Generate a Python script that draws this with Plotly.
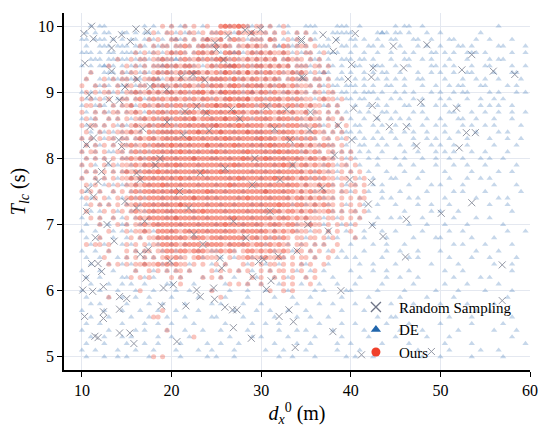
import plotly.graph_objects as go

# ---------------- data ----------------
# Grid on which DE / Ours samples lie: x = 10 + 0.5*i, y = 10.0 - 0.1*j (rows from top)
x_start, x_step = 10.0, 0.5
y_top, y_step = 10.0, 0.1

# "Ours": one string per row (y = 10.0 ... 5.0); digit = number of samples at that cell
ours_rows = [
    ".........." "........1." "1..1.1..1." ".2322321.1" "1.1..1....",
    ".........." "......1..1" "1.1.11.1.1" "1211.21121" "11.1.1..1." "1",
    ".........." ".....1.1.." "11.1.1.121" "12.1211.11" "1.21..1.1." ".1",
    ".........." "...1..1.11" ".1121.1211" "2121.11212" "11.1.21.11" "1.1",
    ".........." "..1.1.11.1" "2121.12212" "1.2212.121" "2121121.1." "11..1",
    "........1." ".1.11.1121" "1.12112121" "2321211212" "1212.12111" ".1.1",
    "......1..." "1.1.1.1112" "1212211.12" "1222321212" "2121212.11" "1.11.1",
    "..1......1" ".11.1.1212" "1121222121" "2132121312" "1221211212" "1.1.1",
    ".1...1.1.1" "1.1.1121.1" "2121112212" "2221312122" "12121.1211" "1.11.1",
    "1..1.1..1." "11.11.2121" "1212211212" "2212321222" "2121221211" "11.1.1",
    ".1.1.11.1." "1121121212" "2122122312" "1232221221" "2212112121" "1.11.11",
    "1.1.1.1..1" "1.12.12121" "2212121221" "2123222312" "2122212121" "11.1211.1.",
    ".11.1..1.1" "12.1211212" "1221222122" "3222132221" "2212212212" "1211.1.1..",
    "1..1.1.11." "1121.21221" "2212221232" "2222322122" "1221221211" "2.11.1.1..",
    ".1.1..1.1." "1.11212122" "1222231222" "2232222212" "2221222121" "1211.11.1.",
    "1.11.1.1.1" ".121121222" "2122222222" "3222232222" "2122212221" "1121.1.1.1",
    ".1..1.1.11" "1211.21222" "2221223222" "2322222322" "2221222212" "11211.1.1.",
    "1.1.1.11.1" "1.12122122" "2222322222" "2232222222" "3222122212" "121.11.1.1",
    ".1.1.1.1.1" "1211212222" "3222222232" "2222322222" "2232222122" "1211211.1.",
    "1.11.1..11" ".121212222" "2232222222" "3222222322" "2222322221" "2121.11.1." "1",
    ".1.1.1.1.1" "1212122222" "2222232222" "2222223222" "2322222222" "1221211.1." "1",
    "1.1..1.1.1" "1121222222" "2322222222" "2222322222" "2222232212" "2121121.11" ".1",
    ".1.1.1.1.1" "2121222322" "2222222322" "2322222222" "2222222222" "1212111.1." "1.1",
    "1..1.1.1.1" "1212222222" "2232222222" "2222232222" "2223222212" "2121211.11" ".1.1",
    ".1.1..1.1." "1121222232" "2222222222" "2223222222" "2222222221" "2112121.1." "11.1",
    "1.1.1..1.1" ".121222222" "2322222232" "2222222222" "2322222212" "1211211.11" ".1.1",
    ".1.1.1..1." "1212122222" "2222232222" "2222222322" "2222222122" "1212111.1." "1.11",
    "..1.1.1.1." "1121222222" "2232222222" "2222222222" "2222322122" "1121211.1." "1.1",
    ".1...1.1.1" ".121122222" "2222222322" "2222222222" "2222212212" "1211121.1." "11.1",
    "..1.1..1.." "1.12122222" "2322222222" "2222322222" "2221222121" "2111.11.1." "1.1",
    "....1...1." "1.11212222" "2222222222" "2232222222" "2122212211" "1211.1.1.1" ".1",
    "......1..." "1.1121.222" "2212222222" "2222212222" "2212121211" "1.11.1.1.." "1",
    "....1....." ".1.1.11222" "2222122212" "2222222122" "1212121.11" ".11.1.1..." ".1",
    ".1.11.1..." "1.1.1.1122" "2212222122" "2212222212" "2121211.11" "1.1.1..1..",
    "......1..." "1.1.11.112" "2122122211" "12121.1221" "2121121.11" ".1.1..1...",
    ".....1...." "1.1.1.1.12" "1211.12111" "1..1.11211" "121121.1.1" "1.1..1....",
    "......1.1." "1.11211212" "1211.1.1.." "1.1...1.1." "1.11.1.1.1" ".1..1.....",
    ".........." "..1..1.1.1" ".11.1....1" ".1.1.1.1.." "1.1.11.1.1" "..1.......",
    ".........." ".1.1.1...." "1.1....1.1" ".1......1." "1..1.1.1.." "1.1.......",
    ".........." ".........." "..1......." "...1.1.1.." "1....1.1.." ".1........",
    ".........." "...1......" ".........1" ".........." "..1..1.1..",
    "......1..." ".........." ".........." ".1........",
    "",
    ".........." "........1.",
    ".........." "......11..",
    "",
    ".........." ".........1",
    ".........." ".........." ".....1....",
    "",
    "",
    ".........." "......1.1.",
]

# "DE": one string per row (y = 10.0 ... 5.0), x = 10 ... 60
de_rows = [
    "..1.11...." "....1.1..." "1.11...1.." "...1...11." "1.1.1.1..." "111....111" "..1......." "1.11..1..." ".........." "...1......",
    ".1.1.11..1" "1.1.11.1.1" ".1.11.1..1" "1...11..1." ".1.1..1.1." "1.1...1111" "1.....121." "11.1...1.." "1........1" "..........",
    "11.111.1.1" ".11.111.1." "1211.1.12." ".1.1.1.111" "1.11.1.11." ".11..1.1.." "11.1..1..1" "1...11..1." "..11....1." ".1....1...",
    ".1..111.11" "1.111.1111" ".11.1.1111" "1.11.1.1.1" ".1.12.111." "1..111..11" ".1..11.1.." ".1...1.1.." "1...11.1.." "...11....1",
    "111.1.11.1" "1111.11.1." "11.1.1.1.1" ".1.1211.11" "1.1..1.1.1" "11.1.111.." "1..1..1..1" "..1.1...11" ".1.1..111." "1.....1..1",
    "..111.1111" "1.1111.111" "121.1.11.1" "1.11.1.1.1" ".1.1.11.1." ".111.1..11" "1.11.1...1" "..11..1.1." "..1...1..." ".1.11.....",
    "1.1.1211.1" ".1111.1121" "11.111.1.1" "1.121.1.11" "1.1.1.1.11" "11.1.11.1." ".11..111.." "1..1....11" ".1.1...1.." "11....1..1",
    "..1..111.1" "11.111.111" "1.11121.1." ".11.11.1.1" "1.1..1.111" ".1.121..1." "1..1.1.11." ".1...1..1." "1..1..11.." "..1...11..",
    ".1..1.1111" "1121.1121." "1.1.11.1.1" "11.1.11.1." ".1.11.1.11" "1.11.1.11." ".1.1..1.1." "1.1..11..." ".1...1..1." "1..1....1.",
    "...1111.11" "1.111.1111" ".11.1.1.11" ".1.1..11.1" "1.11.1..1." ".1.11.11.1" "11.1.1..11" "..1...1..1" "..1.11...1" "1....1.1..",
    "1.1.1.11.1" ".111.1.1.1" "1.1.1.1..1" ".2..1.1.2." "1.1..11.1." "1.1.1.1.11" ".1.111.1.." "1.1.1...1." "1..1.11..." ".1.1...1.1",
    ".111.1..11" "1.1.11.1.." ".1..1..1.1" "..1..1.1.." ".1..1..1.1" "..1.1..1.1" "1.11..1..1" ".1..1.1..." "1.1...1..1" "..1.1.....",
    "1..111.1.1" ".11..1.11." "1..1...1.." "1.1...1..1" "..1.1...1." ".1..11.1.." ".1..1.1.1." "..11..1..1" ".1..1....1" ".1.1..1...",
    ".1.1.11.1." "1.1.1.1.11" "..1.1..1.." ".1..1.1..1" "1...1..1.." "1.1..1.1.1" "..1.1..11." "1...1.1..." "..11...1.." "1..1..1..1",
    "1.11..1.1." ".1.11..1.1" "1..1.1...1" "..1..1..1." ".1..1..1.1" ".1.1.1..1." "1..1..1..1" ".1.1...1.." "1...11..1." "..1...1...",
    ".1.1.1..11" "1.1..11.1." ".1..1..1.1" "1..1...1.." "..1..1...1" "1..11..1.." ".11..1.1.." "1..1..1..1" ".1...1.1.." "1.1.....1.",
    "..1.11.1.1" ".1.1..1.11" "1..1..1..." ".1..1..1.1" "1..1.1...." ".1..1.1.11" "1.1...1..1" "..1.1..1.." ".1..1...1." "...1.1....",
    "1.1..1.1.1" "1.11..1..1" ".1..1..1.." "1..1.1...1" "..1...1.1." "1.1..1..1." ".1.1.1.1.." "1...1..1.1" "..1...1..." ".1...1..1.",
    ".1.11..1.." "1.1..1.11." "..1.1...1." ".1...1..1." "1..1...1.1" ".1.1.11..1" "..11..1.1." ".1..1...1." "1..1..1..." "..1....1..",
    "1..1..11.1" ".1.1.1..1." "1...1.1..1" "..1...1..." ".1.1..1..1" "1..1..1.1." "1.1.1..1.." "..1..1...1" ".1.1...1.." "1....1....",
    ".1.1.1...1" "1..11.1.1." ".1...1...1" "1..1...1.." "..1..1..1." ".1..1.1..1" ".1..1.1..." "1.1...1..1" "..1..1...1" ".1..1.....",
    "1..1..1.1." ".1..1.1..1" "..1...1..." ".1...1...1" "...1...1.." "1...1..1.1" "..1...1..." ".1..1....1" "...1..1..." "1......1..",
    ".1.1...1.1" "1..1.1...1" ".1...1..1." "..1.....1." ".1..1....1" "..1..1.1.." "1...1...1." "..1...1..." ".1.....1.." "...1..1...",
    "1..1.1..1." ".1.1..1.1." "1...1...1." "...1..1..." "1.....1..1" ".1.1...1.." "..1..1...1" "1....1...." "..1...1..1" ".1........",
    "..1..1.1.1" "1.1..1...1" "..1...1..." "1...1....1" "..1...1..." "1..1..1..1" ".1...1.1.." "...1....1." "1....1...." "..1....1..",
    ".1..1..1.." ".1.1..1.1." "1...1....1" "..1...1..." ".1...1...1" "..1.1...1." "1...1..1.." ".1.....1.." "...1.1...." "1.......1.",
    "1.1...1..1" "..1.1...1." ".1...1..1." "1....1...." "..1...1..1" ".1..1.1..." "..1....1.1" "...1.1...." ".1......1." "...1.1....",
    ".1..1.1..." "1..1..1.11" "..1.....1." ".1..1...1." "1......1.." "1.1..1...1" "...1..1..." "1....1..1." "..1......." ".1...1....",
    "..1.1...1." ".1..1.1..1" "1....1...." "..1....1.." ".1..1....1" "..1...1.1." ".1..1....." "..1.....1." "1...1....." "......1...",
    "1...1..1.1" "..1..1...1" ".1...1..1." "...1....1." "..1..1...." "1...1..1.." "..1...1..1" ".1....1..." "...1....1." ".1........",
    ".1..1.1..1" "1..1...1.." "..1...1..." "1.....1..1" "...1....1." ".1..1...1." "1....1...." "...1...1.." ".1....1..." "....1.....",
    "1..1...1.1" ".1..1.1..." "1...1...1." "..1...1..." "1..1....1." ".1...1...1" "...1...1.." "1.....1..." "..1..1...." ".....1...1",
    ".1..1..1.." "1..1...1.1" "..1..1...." ".1....1..1" "..1.1....." "1....1.1.." ".1.1....1." "....1....1" "1......1.." "..1.......",
    "..1..1...1" ".1...1.1.." "1..1....1." "...1..1..." ".1....1..1" "..1.1....." "1....1..1." "..1......." "...1.1...." "1.....1...",
    "1..1..1..." "..1.1...1." ".1....1..1" "1...1....." "...1...1.." ".1...1..1." "...1....1." ".1...1...." "1.......1." "...1......",
    ".1..1...1." "1...1.1..." "..1....1.." ".1..1...1." "1....1...." "..1....1.1" ".1.....1.." "...1.1...." "..1....1.." ".1.....1..",
    "..1...1..1" ".1..1...1." "1...1....1" "..1....1.." ".1..1....1" "1....1...." "..1..1...." "1.......1." "....1....." "..1...1...",
    "1...1..1.." "..1...1..1" ".1..1....." "1....1..1." "..1.....1." ".1..1....." "1....1..1." "...1......" ".1...1...." "......1...",
    ".1..1....1" "1...1.1..." "..1....1.." ".1..1....1" "...1..1..." "1.....1..." "..1.....1." ".1...1...." "...1.....1" ".1........",
    "..1...1..1" ".1..1....1" "1....1...." "..1....1.." "1...1....1" "...1...1.." ".1.....1.." "....1....." ".1....1..." "...1......",
    "1...1...1." "..1...1..." ".1..1....1" "...1...1.." ".1....1..." "..1.1....1" "1.....1..." "..1......1" "....1....." "1.....1...",
    ".1....1..1" "..1..1...." "1.....1..." "..1....1.." "...1...1.." ".1......1." "....1....." ".1.....1.." "...1......" ".....1....",
    "..1.1....." "1....1..1." "...1.....1" ".1....1..." "1.......1." "...1..1..." ".1.......1" "....1....." "1.....1..." "..1.......",
    "1....1...1" "...1...1.." ".1....1..." "....1....1" "..1...1..." "1.......1." "...1......" "..1...1..." "........1." ".1........",
    "..1...1..." ".1...1...1" "...1.....1" "1.....1..." "...1....1." ".1...1...." "......1..1" "1........." "..1....1.." "......1...",
    ".1..1....1" "....1..1.." "1....1...." "..1.....1." ".1..1....." "...1....1." ".1......1." "...1......" "1......1.." "....1.....",
    "1.....1..." "..1.1....1" "...1...1.." ".1.....1.." "....1...1." "1.....1..." "...1......" ".1....1..." "....1....." "..1....1..",
    "..1..1...1" ".1.....1.." "1...1....." "...1....1." "1.....1..." "..1.....1." "....1....." "1......1.." "..1......." "......1...",
    ".1...1...." "1...1..1.." "..1.....1." ".1...1...." "...1....1." ".1.....1.." "1......1.." "...1......" ".1.....1.." ".........1",
    "1..1....1." "..1...1..." ".1....1..1" "....1....." ".1...1...." "1......1.." "..1......." ".....1...." "..1......1" "...1......",
    ".1...1..1." "1....1...." "..1.....1." "1...1....." "....1..1.." "..1......1" ".1...1...." "......1..." "1......1.." "....1.....",
]

# "Random Sampling" points (continuous positions)
random_x = [11.08, 10.22, 11.27, 14.43, 13.5, 16.03, 17.29, 15.4, 13.31, 10.33, 13.31, 16.18, 14.8, 10.82,
            13.05, 14.17, 21.1, 22.4, 23.7, 25.0, 25.8, 26.3, 28.2, 28.9, 29.9, 34.5, 34.5, 24.85, 17.6,
            19.45, 22.8, 26.7, 23.9, 30.6, 32.8, 10.9, 11.3, 14.1, 14.43, 10.52, 12.94, 16.1, 16.5, 23.2,
            18.7, 21.5, 11.8, 10.7, 11.3, 29.3, 33.2, 32.1,
            36.9, 38.35, 40.5, 38.05, 34.5, 44.75, 48.5, 53.5, 40.1, 42.5, 45.9, 52.4, 55.9, 58.3, 42.3,
            39.7, 34.7, 40.3, 42.4, 47.8, 51.8, 42.9, 44.3, 46.2, 38.6, 52.9, 53.9, 40.1, 47.35, 52.1,
            35.4, 39.9, 42.3,
            16.1, 21.9, 26.9, 11.08, 11.8, 12.2, 10.45, 12.4, 10.1, 11.2, 15.0, 14.2, 18.9, 20.2, 19.1,
            12.4, 10.3, 12.4, 14.2, 21.6, 22.8, 23.2, 24.7, 24.8, 25.6, 25.96, 26.8, 27.3, 26.9, 11.45,
            11.8, 14.2, 15.35, 15.8, 20.6, 28.9, 29.05, 31.1, 30.6, 29.7, 30.3, 31.9, 32.0, 33.1, 33.6,
            33.8, 25.4, 17.4,
            41.96, 42.4, 53.5, 50.1, 46.2, 43.6, 46.1, 56.9, 38.9, 56.9, 38.0, 41.2, 49.0,
            19.5, 21.3, 24.2, 27.6, 31.5, 35.5, 18.2, 20.9, 26.0, 29.0, 33.5, 36.8, 38.2, 14.8, 17.0,
            22.5, 31.0, 35.2, 12.8, 10.5, 13.6, 16.5, 19.8, 23.5, 28.3, 34.0, 37.5, 11.5, 12.2, 16.8]
random_y = [10.0, 9.89, 9.81, 9.87, 9.8, 9.96, 9.92, 9.77, 9.67, 9.44, 9.32, 9.2, 9.08, 8.96,
            8.89, 8.88, 9.23, 9.27, 9.19, 9.65, 9.49, 9.86, 9.94, 9.9, 9.95, 9.8, 9.23, 9.75, 9.09,
            9.04, 8.79, 8.74, 8.69, 8.79, 8.74, 8.48, 8.31, 8.28, 8.18, 8.21, 7.93, 7.78, 7.68, 7.78,
            8.0, 8.71, 7.65, 7.53, 7.42, 8.0, 8.28, 7.68,
            9.87, 9.79, 9.89, 9.62, 9.77, 9.70, 9.72, 9.57, 9.42, 9.37, 9.37, 9.34, 9.32, 9.27, 9.23,
            9.2, 9.22, 8.76, 8.8, 8.85, 8.76, 8.61, 8.48, 8.48, 8.5, 8.39, 8.39, 8.28, 8.19, 8.16,
            8.43, 7.68, 7.64,
            7.25, 7.25, 7.05, 6.41, 6.41, 6.29, 6.19, 6.06, 6.01, 5.99, 5.88, 5.91, 5.77, 6.09, 6.04,
            5.68, 5.61, 5.58, 5.72, 5.77, 6.01, 5.91, 6.04, 5.87, 6.34, 5.75, 5.71, 5.71, 5.44, 5.31,
            5.29, 5.36, 5.36, 5.2, 5.23, 5.28, 6.21, 6.15, 6.02, 6.44, 6.47, 6.52, 5.61, 5.71, 5.53,
            5.14, 6.49, 6.62,
            7.31, 6.99, 7.33, 7.17, 7.08, 6.82, 6.51, 6.39, 6.0, 5.85, 5.38, 5.03, 5.08,
            8.55, 8.35, 8.42, 8.6, 8.45, 8.7, 7.9, 7.5, 7.85, 7.6, 7.9, 7.55, 8.05, 7.35, 7.05,
            6.85, 7.2, 7.0, 7.0, 7.2, 6.75, 6.55, 6.45, 6.7, 6.8, 6.6, 6.9, 6.8, 7.8, 8.45]

x_ticks = [10, 20, 30, 40, 50, 60]
y_ticks = [5, 6, 7, 8, 9, 10]
series_names = ["Random Sampling", "DE", "Ours"]


def expand(rows):
    xs, ys = [], []
    for j, row in enumerate(rows):
        yv = round(y_top - y_step * j, 2)
        for i, ch in enumerate(row):
            if ch.isdigit():
                for _ in range(int(ch)):
                    xs.append(x_start + x_step * i)
                    ys.append(yv)
    return xs, ys


de_x, de_y = expand(de_rows)
ours_x, ours_y = expand(ours_rows)

C_RS = "#6f7587"
C_DE = "#2166ac"
C_OURS = "#f0402b"
FONT = "Liberation Serif"

fig = go.Figure()
fig.add_trace(go.Scatter(x=de_x, y=de_y, mode="markers", showlegend=False, hoverinfo="skip",
                         marker=dict(symbol="triangle-up", size=5.5, color=C_DE, opacity=0.26,
                                     line=dict(width=0))))
fig.add_trace(go.Scatter(x=ours_x, y=ours_y, mode="markers", showlegend=False, hoverinfo="skip",
                         marker=dict(symbol="circle", size=5, color=C_OURS, opacity=0.31,
                                     line=dict(width=0))))
fig.add_trace(go.Scatter(x=random_x, y=random_y, mode="markers", showlegend=False, hoverinfo="skip",
                         marker=dict(symbol="x-thin", size=7, color=C_RS, opacity=0.75,
                                     line=dict(width=1, color=C_RS))))

# legend entries (full-opacity symbols)
fig.add_trace(go.Scatter(x=[None], y=[None], mode="markers", name=series_names[0],
                         marker=dict(symbol="x-thin", size=10, color=C_RS, line=dict(width=1.3, color=C_RS))))
fig.add_trace(go.Scatter(x=[None], y=[None], mode="markers", name=series_names[1],
                         marker=dict(symbol="triangle-up", size=9, color=C_DE)))
fig.add_trace(go.Scatter(x=[None], y=[None], mode="markers", name=series_names[2],
                         marker=dict(symbol="circle", size=9, color=C_OURS)))

axis_common = dict(showline=True, linecolor="black", linewidth=1.5, ticks="outside", ticklen=5,
                   tickwidth=1.3, tickcolor="black", showgrid=True, gridcolor="#e4e8f0", gridwidth=1,
                   zeroline=False, tickfont=dict(family=FONT, size=16, color="black"), mirror=False)

fig.update_layout(
    width=550, height=435,
    margin=dict(l=64, r=20, t=13, b=65, autoexpand=False),
    paper_bgcolor="white", plot_bgcolor="white",
    font=dict(family=FONT, color="black"),
    showlegend=True,
    legend=dict(x=0.62, y=0.222, xanchor="left", yanchor="top", bgcolor="rgba(0,0,0,0)",
                font=dict(family=FONT, size=15, color="black"), tracegroupgap=0, itemsizing="trace",
                itemwidth=36),
    xaxis=dict(range=[8, 60], tickvals=x_ticks,
               title=dict(text="<i>d</i><sub><i>x</i></sub><sup>0</sup> (m)", font=dict(family=FONT, size=20),
                          standoff=8),
               **axis_common),
    yaxis=dict(range=[4.8, 10.2], tickvals=y_ticks,
               title=dict(text="<i>T</i><sub><i>lc</i></sub> (s)", font=dict(family=FONT, size=20),
                          standoff=7),
               **axis_common),
)

fig.write_html("out.html", config={"displayModeBar": False},
               post_script="document.body.style.margin='0px';")
